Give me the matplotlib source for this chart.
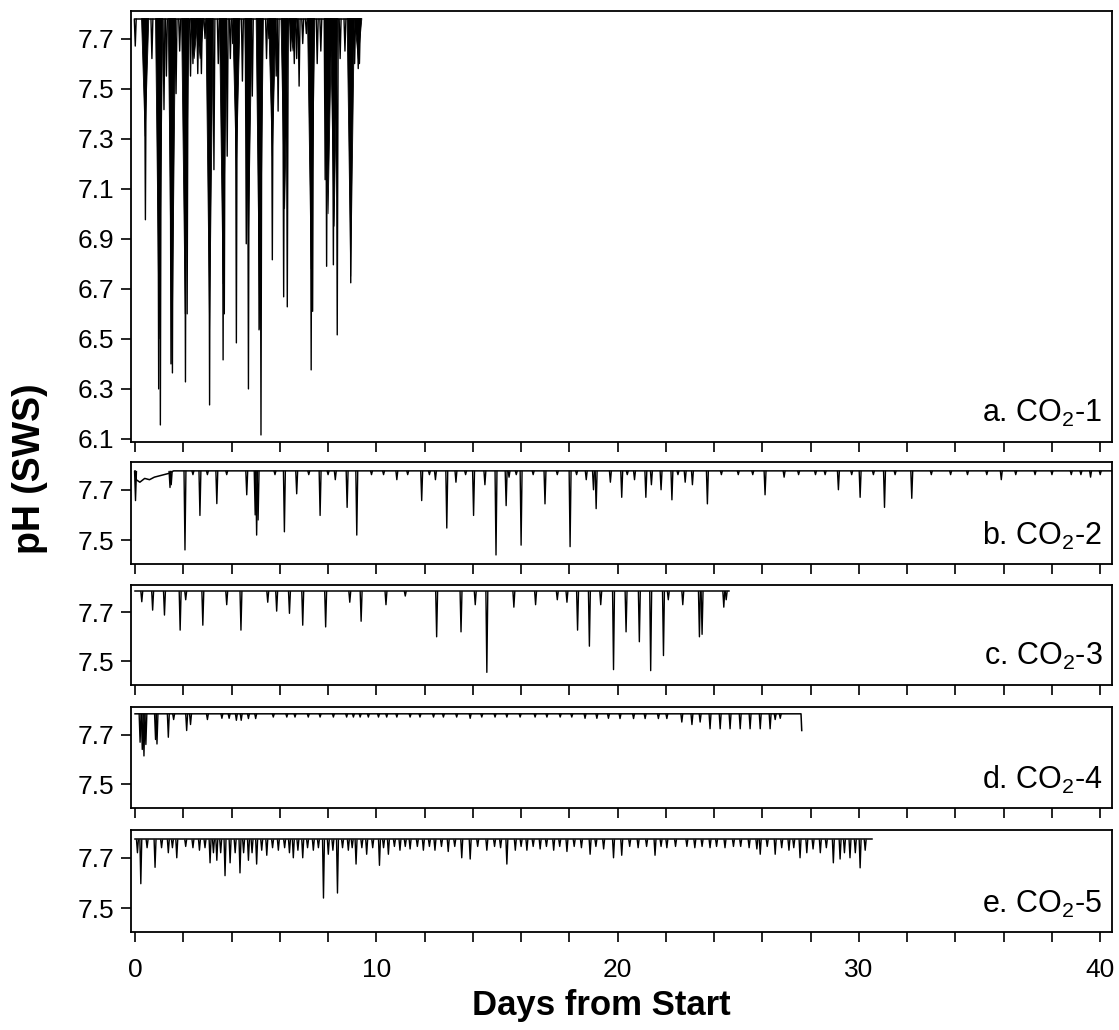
import matplotlib
matplotlib.use("Agg")
import matplotlib.pyplot as plt
from matplotlib.collections import LineCollection, PolyCollection
from matplotlib.ticker import MultipleLocator, FuncFormatter

plt.rcParams["font.family"] = ["Liberation Sans", "DejaVu Sans"]
plt.rcParams["mathtext.fontset"] = "custom"
plt.rcParams["mathtext.rm"] = "Liberation Sans"

# ---------------- data (days from start, pH) ----------------
# a. CO2-1
a_base_day = [0.0, 9.33]
a_base_ph = [7.78, 7.78]
a_spike_day = [0.01, 0.43, 0.7, 0.98, 1.05, 1.2, 1.3, 1.49, 1.55, 1.7, 1.85, 2.09, 2.16,
               2.3, 2.4, 2.6, 2.75, 2.9, 3.09, 3.27, 3.45, 3.65, 3.7, 3.82, 3.95, 4.05,
               4.2, 4.45, 4.61, 4.7, 4.86, 5.14, 5.22, 5.45, 5.55, 5.69, 5.85, 5.93,
               6.16, 6.31, 6.45, 6.6, 6.7, 6.8, 6.95, 7.1, 7.3, 7.36, 7.55, 7.7, 7.88,
               7.94, 8.22, 8.38, 8.5, 8.7, 8.94, 9.1, 9.25, 9.3]
a_spike_ph = [7.67, 6.976, 7.62, 6.30, 6.156, 7.416, 7.55, 6.40, 6.364, 7.48, 7.65, 6.328, 6.60,
              7.55, 7.60, 7.56, 7.56, 7.70, 6.236, 7.176, 7.60, 6.416, 6.60, 7.23, 7.62, 7.68,
              6.484, 7.53, 6.88, 6.30, 7.47, 6.536, 6.116, 7.62, 7.70, 6.816, 7.55, 7.41,
              6.668, 6.628, 7.65, 7.60, 7.62, 7.51, 7.68, 7.72, 6.376, 6.61, 7.60, 7.65, 7.136,
              6.79, 6.796, 6.516, 7.62, 7.65, 6.724, 7.60, 7.58, 7.60]
# dense low-pH episodes (solid black parts)
a_wedge_day = [0.42, 1.00, 1.53, 2.08, 2.45, 2.7, 3.09, 3.65, 4.2, 4.7, 5.17, 5.69, 6.2,
               6.55, 7.3, 8.0, 8.25, 8.94, 9.25]
a_wedge_ph = [7.31, 6.50, 6.40, 6.60, 7.62, 7.62, 6.54, 6.72, 7.18, 6.90, 6.54, 7.23, 7.02,
              7.65, 6.78, 7.00, 6.95, 6.75, 7.62]

# b. CO2-2
b_base_day = [0.0, 0.05, 0.2, 0.4, 0.6, 0.8, 1.0, 1.2, 1.4, 1.6, 40.5]
b_base_ph = [7.775, 7.74, 7.73, 7.745, 7.74, 7.75, 7.755, 7.76, 7.765, 7.775, 7.775]
b_spike_day = [0.02, 1.45, 1.5, 2.07, 2.4, 2.69, 3.0, 3.39, 3.8, 4.63, 4.98, 5.04, 5.1,
               5.8, 6.19, 6.70, 7.2, 7.67, 8.0, 8.3, 8.79, 9.19, 9.8, 10.3, 10.85, 11.3,
               11.88, 12.2, 12.45, 12.92, 13.3, 13.7, 14.03, 14.5, 14.96, 15.38, 15.5,
               15.8, 16.0, 16.5, 16.99, 17.5, 18.03, 18.3, 18.7, 19.0, 19.11, 19.7, 20.17,
               20.4, 20.7, 21.17, 21.4, 21.8, 22.25, 22.5, 22.8, 23.1, 23.72, 24.3, 25.0,
               25.6, 26.11, 26.9, 27.5, 28.2, 28.6, 29.15, 29.7, 30.05, 30.6, 31.06, 31.5,
               32.19, 33.0, 33.8, 34.5, 35.3, 35.9, 36.5, 37.3, 38.0, 38.8, 39.2, 39.6, 40.0]
b_spike_ph = [7.657, 7.709, 7.72, 7.461, 7.76, 7.598, 7.76, 7.645, 7.76, 7.68, 7.60, 7.52, 7.58,
              7.76, 7.533, 7.684, 7.76, 7.598, 7.76, 7.74, 7.63, 7.52, 7.76, 7.76, 7.74, 7.76,
              7.657, 7.76, 7.74, 7.548, 7.73, 7.76, 7.598, 7.72, 7.441, 7.637, 7.75,
              7.76, 7.48, 7.76, 7.644, 7.76, 7.474, 7.76, 7.74, 7.70, 7.625, 7.73, 7.67,
              7.76, 7.74, 7.67, 7.72, 7.70, 7.66, 7.76, 7.73, 7.72, 7.644, 7.76, 7.76,
              7.76, 7.68, 7.75, 7.76, 7.76, 7.76, 7.70, 7.76, 7.67, 7.76, 7.63, 7.76,
              7.666, 7.76, 7.76, 7.76, 7.76, 7.74, 7.76, 7.76, 7.76, 7.76, 7.76, 7.75, 7.76]

# c. CO2-3
c_base_day = [0.0, 24.6]
c_base_ph = [7.785, 7.785]
c_spike_day = [0.28, 0.73, 1.22, 1.87, 2.1, 2.81, 3.8, 4.39, 5.5, 5.87, 6.40, 6.95, 7.90,
               8.9, 9.37, 10.4, 11.2, 12.5, 13.51, 14.1, 14.58, 15.7, 16.6, 17.5, 17.9,
               18.34, 18.83, 19.3, 19.83, 20.35, 20.9, 21.37, 21.9, 22.1, 22.7, 23.39,
               23.5, 24.4, 24.5]
c_spike_ph = [7.742, 7.708, 7.688, 7.627, 7.75, 7.647, 7.73, 7.627, 7.74, 7.704, 7.695, 7.647, 7.64,
              7.74, 7.663, 7.73, 7.765, 7.60, 7.62, 7.73, 7.456, 7.72, 7.73, 7.75, 7.74,
              7.627, 7.562, 7.73, 7.467, 7.62, 7.58, 7.463, 7.524, 7.75, 7.73, 7.60,
              7.61, 7.72, 7.75]

# d. CO2-4
d_base_day = [0.0, 27.6, 27.63]
d_base_ph = [7.783, 7.783, 7.716]
d_spike_day = [0.21, 0.3, 0.37, 0.45, 0.85, 0.91, 1.38, 1.6, 2.14, 2.3, 3.0, 3.6, 3.9, 4.2,
               4.4, 4.7, 5.0, 5.73, 6.29, 6.63, 7.18, 7.67, 8.22, 8.77, 9.05, 9.33, 9.67,
               10.09, 10.43, 10.85, 11.4, 11.81, 12.37, 12.78, 13.33, 13.89, 14.37, 14.92,
               15.41, 15.96, 16.58, 17.07, 17.62, 18.1, 18.65, 19.14, 19.62, 20.10, 20.66,
               21.14, 21.69, 22.04, 22.66, 23.08, 23.42, 23.83, 24.25, 24.66, 25.08, 25.49,
               25.91, 26.32, 26.53, 26.74]
d_spike_ph = [7.669, 7.64, 7.614, 7.66, 7.68, 7.662, 7.689, 7.76, 7.716, 7.74, 7.76, 7.765, 7.765, 7.757,
              7.757, 7.764, 7.764, 7.77, 7.77, 7.77, 7.77, 7.77, 7.77, 7.77, 7.77, 7.77, 7.77,
              7.77, 7.77, 7.77, 7.77, 7.77, 7.77, 7.77, 7.77, 7.765, 7.77, 7.77,
              7.77, 7.77, 7.77, 7.77, 7.77, 7.77, 7.765, 7.765, 7.765, 7.764, 7.764,
              7.764, 7.764, 7.764, 7.75, 7.74, 7.75, 7.723, 7.723, 7.723, 7.723, 7.723,
              7.723, 7.723, 7.76, 7.765]

# e. CO2-5
e_base_day = [0.0, 30.54]
e_base_ph = [7.773, 7.773]
e_spike_day = [0.1, 0.24, 0.5, 0.83, 1.1, 1.38, 1.55, 1.73, 2.1, 2.4, 2.67, 2.9, 3.11, 3.25,
               3.39, 3.55, 3.73, 3.94, 4.15, 4.35, 4.5, 4.70, 4.85, 5.04, 5.25, 5.46, 5.7,
               5.94, 6.2, 6.4, 6.56, 6.75, 6.95, 7.15, 7.39, 7.6, 7.81, 8.01, 8.2, 8.39,
               8.6, 8.84, 9.0, 9.16, 9.4, 9.6, 9.85, 10.13, 10.3, 10.5, 10.75, 10.98, 11.2,
               11.4, 11.7, 11.95, 12.2, 12.43, 12.7, 12.98, 13.25, 13.54, 13.89, 14.2,
               14.58, 14.9, 15.15, 15.41, 15.76, 16.0, 16.24, 16.5, 16.79, 17.05, 17.35,
               17.6, 17.9, 18.2, 18.5, 18.86, 19.1, 19.42, 19.83, 20.17, 20.5, 20.85,
               21.2, 21.55, 21.8, 22.04, 22.4, 22.87, 23.2, 23.5, 23.83, 24.1, 24.45, 24.8,
               25.1, 25.45, 25.77, 25.91, 26.2, 26.53, 26.8, 27.1, 27.3, 27.56, 27.84,
               28.1, 28.4, 28.65, 28.94, 29.22, 29.4, 29.63, 29.85, 30.05, 30.26]
e_spike_ph = [7.72, 7.597, 7.74, 7.662, 7.74, 7.72, 7.74, 7.70, 7.745, 7.74, 7.73, 7.74, 7.68, 7.72,
              7.69, 7.72, 7.629, 7.68, 7.72, 7.64, 7.72, 7.69, 7.72, 7.675, 7.73, 7.71, 7.74,
              7.73, 7.74, 7.72, 7.70, 7.73, 7.70, 7.74, 7.73, 7.74, 7.54, 7.714, 7.73, 7.56,
              7.74, 7.73, 7.74, 7.675, 7.74, 7.714, 7.74, 7.67, 7.74, 7.714, 7.745, 7.73, 7.745,
              7.735, 7.745, 7.73, 7.745, 7.73, 7.745, 7.725, 7.745, 7.70, 7.695, 7.745,
              7.73, 7.745, 7.74, 7.675, 7.73, 7.745, 7.73, 7.745, 7.735, 7.745, 7.73,
              7.745, 7.725, 7.745, 7.74, 7.714, 7.745, 7.735, 7.70, 7.71, 7.745, 7.74,
              7.745, 7.71, 7.745, 7.74, 7.745, 7.745, 7.74, 7.745, 7.74, 7.745, 7.74, 7.745,
              7.745, 7.74, 7.735, 7.714, 7.745, 7.714, 7.74, 7.73, 7.74, 7.70, 7.72,
              7.735, 7.72, 7.74, 7.68, 7.695, 7.72, 7.70, 7.72, 7.66, 7.73]

panels = [
    ("a. CO$_\\mathregular{2}$-1", a_base_day, a_base_ph, a_spike_day, a_spike_ph, a_wedge_day, a_wedge_ph),
    ("b. CO$_\\mathregular{2}$-2", b_base_day, b_base_ph, b_spike_day, b_spike_ph, [], []),
    ("c. CO$_\\mathregular{2}$-3", c_base_day, c_base_ph, c_spike_day, c_spike_ph, [], []),
    ("d. CO$_\\mathregular{2}$-4", d_base_day, d_base_ph, d_spike_day, d_spike_ph, [], []),
    ("e. CO$_\\mathregular{2}$-5", e_base_day, e_base_ph, e_spike_day, e_spike_ph, [], []),
]

# axes boxes in figure fraction: left, bottom, width, height
boxes = [
    [0.117, 0.5709, 0.877, 0.4184],
    [0.117, 0.4524, 0.877, 0.0990],
    [0.117, 0.3350, 0.877, 0.0971],
    [0.117, 0.2155, 0.877, 0.0980],
    [0.117, 0.0951, 0.877, 0.0990],
]

fig = plt.figure(figsize=(11.19, 10.30), dpi=100)

for i, (label, bx, by, sx, sy, wx, wy) in enumerate(panels):
    ax = fig.add_axes(boxes[i])
    base = by[-1] if i != 3 else by[0]

    ax.plot(bx, by, color="black", lw=1.1)

    hw = 0.04
    segs = [[(t - hw, base), (t, v), (t + hw, base)] for t, v in zip(sx, sy)]
    ax.add_collection(LineCollection(segs, colors="black", linewidths=1.0))

    if wx:
        ww = 0.15
        tris = [[(t - ww, base), (t, v), (t + ww, base)] for t, v in zip(wx, wy)]
        ax.add_collection(PolyCollection(tris, facecolors="black", edgecolors="black",
                                         linewidths=0.6))

    ax.set_xlim(-0.17, 40.5)
    if i == 0:
        ax.set_ylim(6.088, 7.81)
        ax.set_yticks([6.1, 6.3, 6.5, 6.7, 6.9, 7.1, 7.3, 7.5, 7.7])
    else:
        ax.set_ylim(7.405, 7.81)
        ax.set_yticks([7.5, 7.7])
    ax.yaxis.set_major_formatter(FuncFormatter(lambda v, p: f"{v:.1f}"))

    ax.xaxis.set_major_locator(MultipleLocator(2))
    if i == 4:
        ax.xaxis.set_major_formatter(
            FuncFormatter(lambda v, p: f"{v:.0f}" if round(v) % 10 == 0 else ""))
    else:
        ax.xaxis.set_major_formatter(FuncFormatter(lambda v, p: ""))

    ax.tick_params(axis="both", direction="out", length=7, width=1.2,
                   labelsize=19, colors="black", pad=5)
    ax.tick_params(axis="x", pad=12)
    for s in ax.spines.values():
        s.set_linewidth(1.3)

    ax.annotate(label, xy=(1, 0), xycoords="axes fraction", xytext=(-7, 9),
                textcoords="offset points", ha="right", va="bottom", fontsize=22)

fig.text(0.027, 0.545, "pH (SWS)", rotation=90, ha="center", va="center",
         fontsize=27, fontweight="bold")
fig.text(0.537, 0.024, "Days from Start", ha="center", va="center",
         fontsize=25, fontweight="bold")

fig.savefig("out.png", dpi=100)
